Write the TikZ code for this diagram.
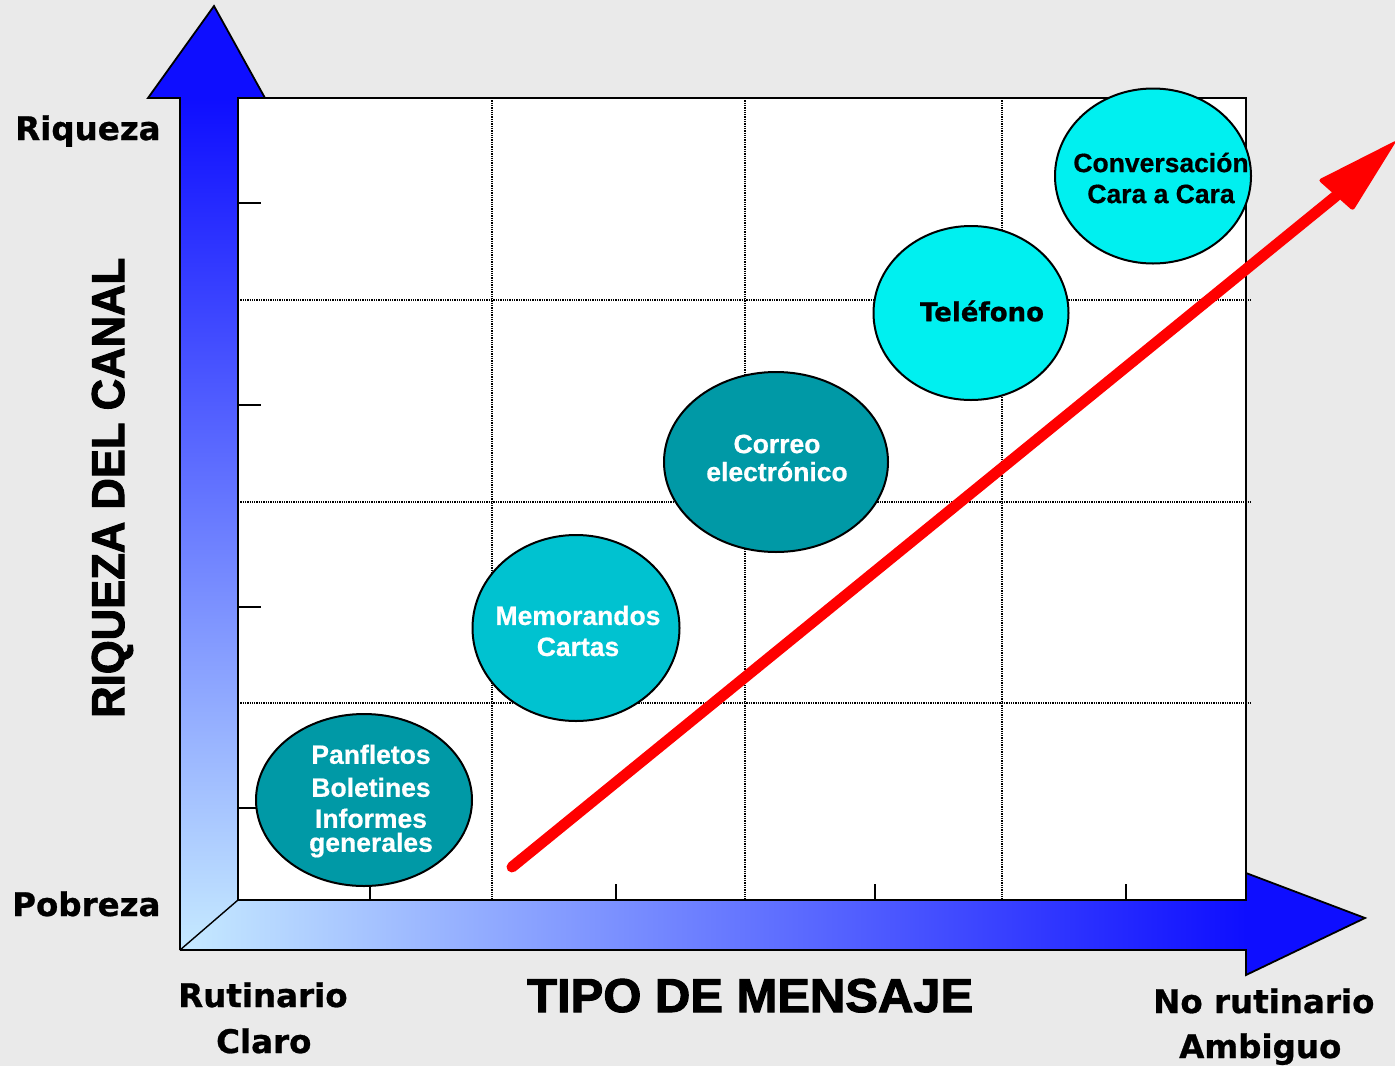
\documentclass[tikz,border=0pt]{standalone}
\usepackage{fontspec}
\usepackage{graphicx}
\setmainfont{Liberation Sans}
\newfontfamily\verd[FakeBold=0.8]{DejaVu Sans Bold}
\newfontfamily\heavy[FakeBold=2.2]{Liberation Sans Bold}
\newfontfamily\elfont[FakeBold=0.6]{Liberation Sans Bold}
\usetikzlibrary{shapes.geometric}
\definecolor{bggray}{RGB}{234,234,234}
\definecolor{darkteal}{RGB}{0,153,166}
\definecolor{midteal}{RGB}{0,194,208}
\definecolor{brightcyan}{RGB}{0,240,240}
\definecolor{axblue}{RGB}{14,14,255}
\definecolor{axlight}{RGB}{198,234,255}
\begin{document}
\begin{tikzpicture}[x=1pt,y=-1pt,
  axlab/.style={font=\verd\fontsize{32.5}{36}\selectfont, anchor=base west, inner sep=0pt},
  ell/.style={ellipse, draw=black, line width=2pt, inner sep=0pt},
  wtxt/.style={font=\elfont\fontsize{26.5}{31}\selectfont, text=white, align=center, inner sep=0pt},
  btxt/.style={font=\elfont\fontsize{26.5}{31}\selectfont, text=black, align=center, inner sep=0pt},
  grid/.style={black, densely dotted, line width=1.3pt},
  tick/.style={black, line width=1.5pt}]
\useasboundingbox (0,0) rectangle (1395,1066);
\fill[bggray] (0,0) rectangle (1395,1066);

% back wall / plot area
\fill[white] (238,98) rectangle (1246,900);
\draw[black, line width=1.8pt] (238,98) -- (1246,98) -- (1246,900);

% grid lines
\foreach \x in {492,745,1002} \draw[grid] (\x,98) -- (\x,900);
\foreach \y in {300,502,703} \draw[grid] (238,\y) -- (1252,\y);

% ticks
\foreach \y in {203,405,607,808} \draw[tick] (238,\y) -- (261,\y);
\foreach \x in {370,616,875,1126} \draw[tick] (\x,884) -- (\x,900);

% vertical axis (left wall + arrow head)
\shade[top color=axblue, bottom color=axlight] (180,98) -- (238,98) -- (238,900) -- (180,950) -- cycle;
\fill[axblue] (148,98) -- (214,6) -- (265,98) -- cycle;
\draw[black, line width=1.8pt, line join=miter] (238,900) -- (238,98) -- (265,98) -- (214,6) -- (148,98) -- (180,98) -- (180,950);

% horizontal axis (floor + arrow head)
\shade[left color=axlight, right color=axblue] (180,950) -- (238,900) -- (1246,900) -- (1246,950) -- cycle;
\fill[axblue] (1246,873) -- (1365,918) -- (1246,975) -- cycle;
\draw[black, line width=1.8pt, line join=miter] (180,950) -- (1246,950) -- (1246,975) -- (1365,918) -- (1246,873) -- (1246,900) -- (238,900);
\draw[black, line width=1.4pt] (180,950) -- (238,900);

% ellipses
\node[ell, fill=darkteal, minimum width=216pt, minimum height=172pt] (e1) at (364,800) {};
\node[ell, fill=midteal, minimum width=207pt, minimum height=186pt] (e2) at (576,628) {};
\node[ell, fill=darkteal, minimum width=224pt, minimum height=180pt] (e3) at (776,462) {};
\node[ell, fill=brightcyan, minimum width=195pt, minimum height=174pt] (e4) at (971,313) {};
\node[ell, fill=brightcyan, minimum width=196pt, minimum height=175pt] (e5) at (1153,176) {};

\node[wtxt] (t1) at ([xshift=7pt,yshift=-1pt]e1.center) {Panfletos\\[2pt]Boletines\\Informes\\[-7pt]generales};
\node[wtxt] (t2) at ([xshift=2pt,yshift=-3pt]e2.center) {Memorandos\\Cartas};
\node[wtxt, font=\elfont\fontsize{26.5}{28}\selectfont] (t3) at ([xshift=1pt,yshift=4pt]e3.center) {Correo\\electrónico};
\node[btxt, font=\verd\fontsize{26}{31}\selectfont] (t4) at ([xshift=11pt,yshift=2pt]e4.center) {Teléfono};
\node[btxt] (t5) at ([xshift=8pt,yshift=-2pt]e5.center) {Conversación\\Cara a Cara};

% red arrow
\coordinate (rs) at (512,867);
\coordinate (re) at (1336,196);
\coordinate (rt) at (1397,140);
\coordinate (rh1) at (1318,180);
\coordinate (rh2) at (1353,211);
\draw[red, line width=11pt, line cap=round] (rs) -- (re);
\fill[red, rounded corners=3pt] (rh1) -- (rt) -- (rh2) -- cycle;

% labels
\node[axlab] (riq) at (15,140) {Riqueza};
\node[axlab] (pob) at (12,916) {Pobreza};
\node[axlab] (rut) at (178,1007) {Rutinario};
\node[axlab] (cla) at (216,1053) {Claro};
\node[axlab] (nor) at (1153,1013) {No rutinario};
\node[axlab] (amb) at (1179,1058) {Ambiguo};

\node[anchor=base west, inner sep=0pt] (tipo) at (527,1012)
  {\resizebox{446pt}{\height}{\heavy\fontsize{47.5}{50}\selectfont TIPO DE MENSAJE}};
\node[rotate=90, anchor=base west, inner sep=0pt] (rdc) at (124,718)
  {\resizebox{460pt}{\height}{\heavy\fontsize{46}{50}\selectfont RIQUEZA DEL CANAL}};
\end{tikzpicture}
\end{document}
